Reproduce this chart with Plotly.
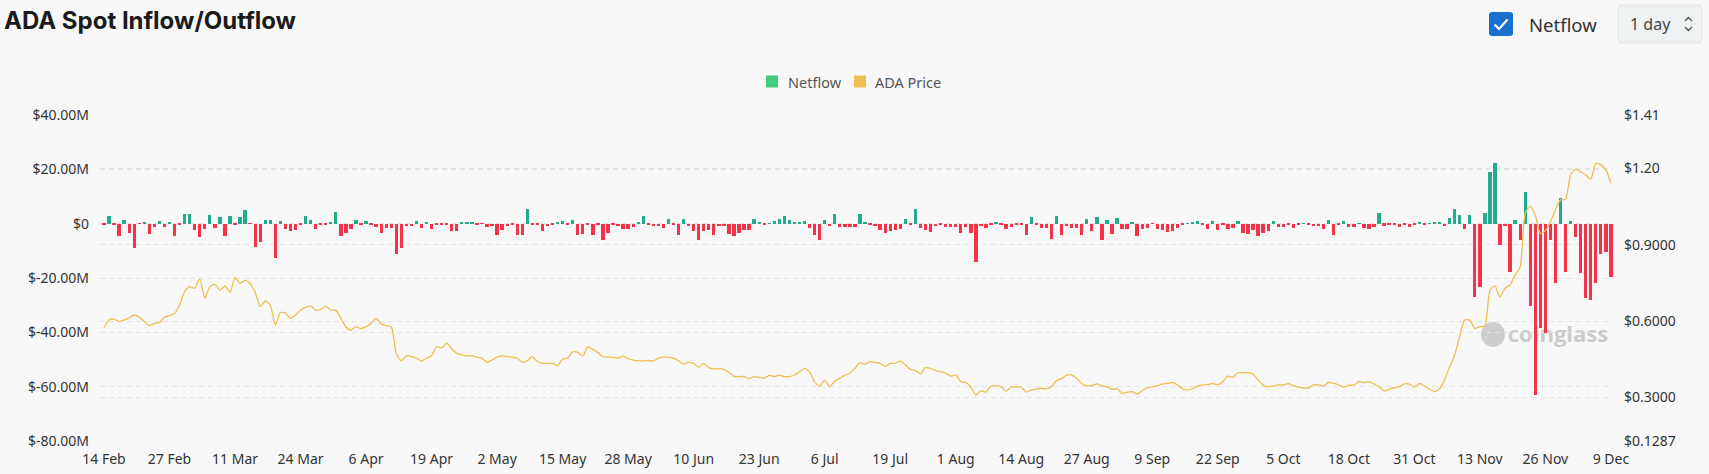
import plotly.graph_objects as go
import pandas as pd

# ---------------- data ----------------
start_date = "2024-02-14"
# daily netflow, millions of USD (Feb 14 .. Dec 9 2024)
netflow_m = [
    -0.6, 2.8, -0.4, -4.7, 1.5, -3.4, -9.0, -0.1, 0.3, -3.7,
    -1.2, 1.0, -1.2, 0.4, -4.7, -0.6, 3.4, 3.4, -2.2, -5.0,
    -1.8, 3.2, -1.6, 2.6, -4.7, 2.7, -0.2, 2.3, 5.0, -0.1,
    -8.5, -6.7, 1.2, 1.2, -12.6, 1.0, -1.8, -2.7, -2.2, -0.2,
    2.8, 1.2, -1.8, -0.3, -0.4, 0.5, 4.3, -4.7, -3.3, -2.1,
    1.3, -0.3, 1.0, -0.6, -1.3, -3.6, -1.6, -1.6, -11.0, -8.8,
    -0.9, -0.9, 1.1, -1.6, 0.7, -2.1, -0.4, -0.6, -0.6, -2.7,
    -2.8, 0.3, 0.3, 0.3, -0.6, -0.1, -1.2, -1.0, -4.0, -2.5,
    -0.9, -0.6, -4.0, -4.3, 5.4, -0.3, -0.6, -2.7, -0.9, -0.4,
    0.4, 1.0, -0.4, 1.2, -4.0, -3.8, -0.2, -4.0, -0.3, -5.9,
    -3.4, -0.3, -0.9, -2.1, -2.1, -1.2, 0.3, 2.8, -0.2, -0.9,
    -0.9, -1.5, 1.6, -0.3, -4.3, 1.6, -1.0, -2.8, -6.1, -2.8,
    -2.5, -4.3, -0.9, -0.8, -3.7, -4.7, -3.4, -2.2, -2.2, 1.6,
    0.3, -0.3, 0.1, 0.9, 1.6, 3.0, 1.3, 0.7, 0.7, 0.8,
    -1.5, -4.0, -5.9, 1.2, -0.9, 3.6, -1.3, -1.3, -1.3, -1.3,
    3.6, 0.3, -0.4, -1.0, -2.2, -3.4, -2.7, -2.2, -1.8, 1.7,
    -0.2, 5.4, -1.5, -2.2, -3.1, -0.9, -0.4, -1.3, -1.3, -1.1,
    -3.3, -1.1, -3.3, -14.1, -0.9, -1.6, -0.4, 0.7, -0.6, -1.8,
    -1.1, -0.2, -0.6, -4.0, 2.3, -0.4, -1.6, -1.6, -5.5, 2.7,
    -4.0, -0.9, -1.5, -1.5, -4.3, 1.6, -2.6, 2.5, -6.1, 1.2,
    -3.7, 2.0, -1.8, -2.1, 0.4, -4.7, -1.8, -1.6, -0.1, -1.8,
    -2.2, -3.1, -2.8, -1.6, -0.4, 0.1, 0.3, 1.1, -0.4, -1.8,
    0.9, -2.5, -0.3, -2.1, -1.6, 0.9, -3.4, -3.7, -2.2, -4.5,
    -3.3, -2.6, 0.9, -1.3, -1.3, -0.4, -1.5, -0.3, 0.1, -0.2,
    -0.9, -0.9, -2.1, 1.3, -4.0, -0.2, 1.1, -1.1, -1.1, 0.1,
    -1.6, -1.8, -1.3, 4.0, -0.7, -0.3, -0.3, -1.2, -0.3, -1.3,
    -0.6, 0.5, -0.6, 0.1, 0.3, 0.3, -0.8, 2.2, 5.5, 3.3,
    -1.8, 3.3, -27.0, -23.3, 3.9, 19.0, 22.4, -7.7, -1.0, -17.8,
    1.2, -6.0, 11.6, -30.4, -62.9, -38.4, -40.4, -6.0, -21.7, 9.4,
    -17.8, 0.9, -4.9, -18.1, -27.2, -28.2, -21.8, -11.0, -10.4, -19.6,
]
# daily ADA price, USD
ada_price = [
    0.574, 0.604, 0.608, 0.598, 0.604, 0.613, 0.624, 0.615, 0.598, 0.582,
    0.591, 0.594, 0.615, 0.621, 0.630, 0.663, 0.716, 0.735, 0.729, 0.766,
    0.690, 0.735, 0.745, 0.722, 0.738, 0.713, 0.771, 0.748, 0.760, 0.748,
    0.712, 0.657, 0.679, 0.663, 0.585, 0.634, 0.631, 0.611, 0.624, 0.643,
    0.654, 0.660, 0.643, 0.646, 0.659, 0.643, 0.643, 0.611, 0.578, 0.565,
    0.578, 0.570, 0.578, 0.591, 0.610, 0.589, 0.582, 0.578, 0.473, 0.444,
    0.464, 0.460, 0.454, 0.443, 0.454, 0.464, 0.499, 0.495, 0.513, 0.491,
    0.473, 0.467, 0.463, 0.464, 0.458, 0.454, 0.438, 0.447, 0.458, 0.464,
    0.460, 0.458, 0.454, 0.439, 0.444, 0.460, 0.441, 0.434, 0.434, 0.434,
    0.425, 0.450, 0.455, 0.479, 0.477, 0.463, 0.499, 0.489, 0.477, 0.460,
    0.458, 0.458, 0.454, 0.463, 0.452, 0.447, 0.444, 0.444, 0.445, 0.443,
    0.454, 0.458, 0.458, 0.454, 0.444, 0.431, 0.438, 0.434, 0.418, 0.434,
    0.417, 0.412, 0.413, 0.410, 0.398, 0.383, 0.382, 0.382, 0.374, 0.382,
    0.379, 0.375, 0.387, 0.382, 0.388, 0.382, 0.382, 0.388, 0.401, 0.414,
    0.401, 0.362, 0.345, 0.368, 0.342, 0.365, 0.375, 0.387, 0.395, 0.414,
    0.437, 0.430, 0.441, 0.437, 0.434, 0.421, 0.434, 0.434, 0.444, 0.428,
    0.410, 0.405, 0.392, 0.417, 0.414, 0.405, 0.401, 0.395, 0.384, 0.388,
    0.362, 0.359, 0.341, 0.309, 0.327, 0.321, 0.345, 0.346, 0.342, 0.325,
    0.340, 0.342, 0.340, 0.321, 0.329, 0.334, 0.336, 0.334, 0.342, 0.366,
    0.374, 0.388, 0.388, 0.375, 0.355, 0.346, 0.347, 0.353, 0.345, 0.342,
    0.332, 0.334, 0.316, 0.320, 0.323, 0.313, 0.327, 0.338, 0.342, 0.345,
    0.353, 0.355, 0.359, 0.349, 0.334, 0.329, 0.334, 0.345, 0.349, 0.350,
    0.355, 0.350, 0.362, 0.384, 0.379, 0.397, 0.397, 0.397, 0.392, 0.368,
    0.349, 0.342, 0.345, 0.349, 0.349, 0.354, 0.346, 0.340, 0.337, 0.337,
    0.349, 0.349, 0.345, 0.359, 0.355, 0.349, 0.340, 0.347, 0.349, 0.362,
    0.358, 0.362, 0.353, 0.342, 0.325, 0.332, 0.338, 0.342, 0.353, 0.352,
    0.340, 0.355, 0.345, 0.332, 0.323, 0.334, 0.370, 0.421, 0.467, 0.540,
    0.604, 0.604, 0.571, 0.578, 0.581, 0.722, 0.738, 0.695, 0.729, 0.742,
    0.781, 0.814, 1.024, 1.052, 1.017, 0.945, 0.955, 0.991, 1.037, 1.076,
    1.079, 1.174, 1.197, 1.187, 1.174, 1.157, 1.220, 1.214, 1.194, 1.142,
]
tick_dates = ["2024-02-14", "2024-02-27", "2024-03-11", "2024-03-24", "2024-04-06",
              "2024-04-19", "2024-05-02", "2024-05-15", "2024-05-28", "2024-06-10",
              "2024-06-23", "2024-07-06", "2024-07-19", "2024-08-01", "2024-08-14",
              "2024-08-27", "2024-09-09", "2024-09-22", "2024-10-05", "2024-10-18",
              "2024-10-31", "2024-11-13", "2024-11-26", "2024-12-09"]
tick_labels = ["14 Feb", "27 Feb", "11 Mar", "24 Mar", "6 Apr", "19 Apr", "2 May",
               "15 May", "28 May", "10 Jun", "23 Jun", "6 Jul", "19 Jul", "1 Aug",
               "14 Aug", "27 Aug", "9 Sep", "22 Sep", "5 Oct", "18 Oct", "31 Oct",
               "13 Nov", "26 Nov", "9 Dec"]
left_ticks = [-80, -60, -40, -20, 0, 20, 40]
left_labels = ["$-80.00M", "$-60.00M", "$-40.00M", "$-20.00M", "$0", "$20.00M", "$40.00M"]
right_ticks = [0.1287, 0.3, 0.6, 0.9, 1.2, 1.41]
right_labels = ["$0.1287", "$0.3000", "$0.6000", "$0.9000", "$1.20", "$1.41"]
legend_names = ["Netflow", "ADA Price"]
legend_colors = ["#3ecd7f", "#efbf52"]

dates = pd.date_range(start_date, periods=len(netflow_m), freq="D")

# ---------------- layout geometry ----------------
W, H = 1709, 474
PL, PR, PT, PB = 100, 1613, 115, 441


def px_x(x):
    return (x - PL) / (PR - PL)


def px_y(y):
    return (PB - y) / (PB - PT)


GREEN = "#22ab8c"
RED = "#f5334a"
BG = "#f8f8f8"
FONT = "Noto Sans"

bar_colors = [GREEN if v >= 0 else RED for v in netflow_m]

fig = go.Figure()
fig.add_trace(go.Bar(
    x=dates, y=netflow_m, marker=dict(color=bar_colors, line=dict(width=0)),
    width=0.66 * 86400000, showlegend=False, name="Netflow", yaxis="y"))
fig.add_trace(go.Scatter(
    x=dates, y=ada_price, mode="lines", yaxis="y2", showlegend=False,
    line=dict(color="#efbf52", width=1.3, shape="spline", smoothing=0.6),
    name="ADA Price"))

grid = dict(showgrid=True, gridcolor="#e4e4e4", griddash="5px,4px", gridwidth=1)

fig.update_layout(
    width=W, height=H,
    margin=dict(l=PL, r=W - PR, t=PT, b=H - PB, pad=0, autoexpand=False),
    paper_bgcolor=BG, plot_bgcolor=BG,
    font=dict(family=FONT, size=14, color="#333333"),
    bargap=0, showlegend=False,
    title=dict(text="<b>ADA Spot Inflow/Outflow</b>", x=4 / W, xanchor="left",
               y=1 - 21 / H, yanchor="middle",
               font=dict(family="Inter, Liberation Sans", size=24, color="#1b1b1b")),
    xaxis=dict(type="date", automargin=False,
               range=[pd.Timestamp(start_date) - pd.Timedelta(hours=19),
                      dates[-1] + pd.Timedelta(hours=10)],
               tickvals=tick_dates, ticktext=tick_labels, showgrid=False,
               zeroline=False, showline=False, ticks="", ticklen=0,
               ticklabelstandoff=8,
               tickfont=dict(size=14, color="#333333")),
    yaxis=dict(range=[-80, 40], tickvals=left_ticks, ticktext=left_labels,
               automargin=False,
               zeroline=False, showline=False, ticks="", ticklabelstandoff=10,
               tickfont=dict(size=14, color="#333333"), **grid),
    yaxis2=dict(range=[0.1287, 1.41], tickvals=right_ticks, ticktext=right_labels,
                automargin=False,
                overlaying="y", side="right", zeroline=False, showline=False,
                ticks="", ticklabelstandoff=10,
                tickfont=dict(size=14, color="#333333"), **grid),
)

# ---- custom legend (square swatches) ----
legend_sq_x = [766, 854]
legend_txt_x = [786, 873]
for name, col, sx, tx in zip(legend_names, legend_colors, legend_sq_x, legend_txt_x):
    fig.add_shape(type="rect", xref="paper", yref="paper",
                  x0=px_x(sx), x1=px_x(sx + 12), y0=px_y(87.5), y1=px_y(75.5),
                  fillcolor=col, line=dict(width=0))
    fig.add_annotation(x=px_x(tx), y=px_y(81.5), xref="paper", yref="paper",
                       xanchor="left", yanchor="middle", text=name, showarrow=False,
                       font=dict(size=14.5, color="#555555", family=FONT))

# ---- watermark (below traces) ----
fig.add_shape(type="rect", xref="paper", yref="paper",
              x0=px_x(1510), x1=px_x(1606), y0=px_y(350), y1=px_y(320),
              line=dict(width=0), fillcolor="rgba(0,0,0,0)", layer="below",
              label=dict(text="<b>coinglass</b>", font=dict(size=22, color="#cbcbcb",
                                                             family="Open Sans")))
fig.add_shape(type="circle", xref="paper", yref="paper",
              x0=px_x(1481), x1=px_x(1505), y0=px_y(347), y1=px_y(322),
              line=dict(width=0), fillcolor="#cdcdcd", layer="below")


# ---- top-right controls ----
def path_paper(x0, y0, x1, y1, r):
    X0, X1 = px_x(x0), px_x(x1)
    Y0, Y1 = px_y(y0), px_y(y1)
    rx = r / (PR - PL)
    ry = r / (PB - PT)
    return (f"M{X0 + rx},{Y0} L{X1 - rx},{Y0} Q{X1},{Y0} {X1},{Y0 - ry} "
            f"L{X1},{Y1 + ry} Q{X1},{Y1} {X1 - rx},{Y1} L{X0 + rx},{Y1} "
            f"Q{X0},{Y1} {X0},{Y1 + ry} L{X0},{Y0 - ry} Q{X0},{Y0} {X0 + rx},{Y0} Z")


fig.add_shape(type="path", xref="paper", yref="paper",
              path=path_paper(1489, 12, 1513, 36, 3),
              fillcolor="#1a6fd0", line=dict(width=0))
# checkmark
ck = [(1494.5, 24.5), (1499, 29), (1507.5, 19.5)]
fig.add_shape(type="path", xref="paper", yref="paper",
              path="M" + " L".join(f"{px_x(a)},{px_y(b)}" for a, b in ck),
              line=dict(color="white", width=2.2))
fig.add_annotation(x=px_x(1527), y=px_y(24), xref="paper", yref="paper",
                   xanchor="left", yanchor="middle", text="Netflow", showarrow=False,
                   font=dict(size=18.5, color="#333333", family=FONT))
fig.add_shape(type="path", xref="paper", yref="paper",
              path=path_paper(1618, 5, 1702, 43, 5),
              fillcolor="#eef2f3", line=dict(width=1, color="#e1e6e8"))
fig.add_annotation(x=px_x(1628), y=px_y(24), xref="paper", yref="paper",
                   xanchor="left", yanchor="middle", text="1 day", showarrow=False,
                   font=dict(size=16, color="#444444", family=FONT))
for pts in ([(1685, 21), (1688.5, 17.5), (1692, 21)], [(1685, 27), (1688.5, 30.5), (1692, 27)]):
    p = "M" + " L".join(f"{px_x(a)},{px_y(b)}" for a, b in pts)
    fig.add_shape(type="path", xref="paper", yref="paper", path=p,
                  line=dict(color="#555555", width=1.4))

fig.write_html("out.html", config={"displayModeBar": False},
               post_script="document.body.style.margin='0';document.body.style.overflow='hidden';")
